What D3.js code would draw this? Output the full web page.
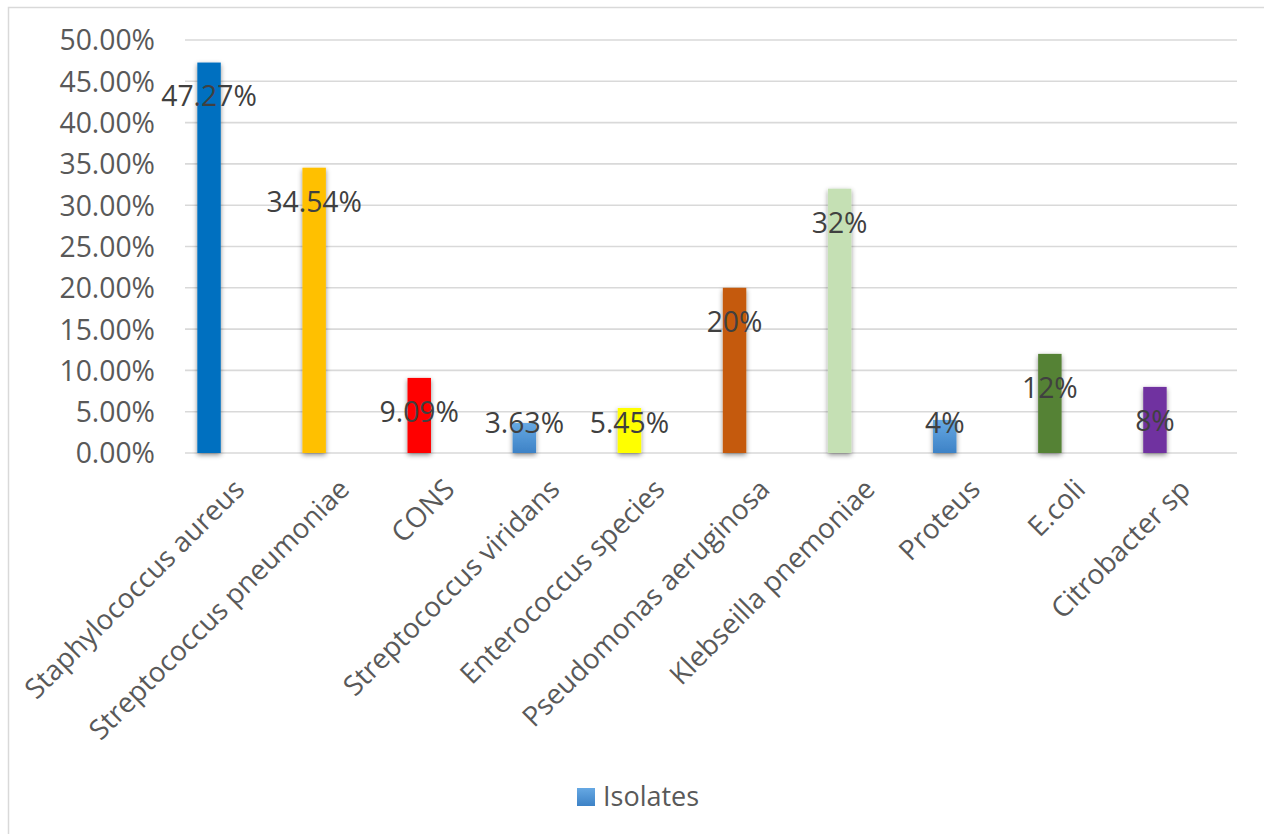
<!DOCTYPE html>
<html>
<head>
<meta charset="utf-8">
<script src="https://cdn.jsdelivr.net/npm/d3@7"></script>
<style>
  html, body { margin: 0; padding: 0; background: #fff; }
  svg { display: block; font-family: "Open Sans", "Noto Sans", sans-serif; }
</style>
</head>
<body>
<svg id="chart" width="1264" height="834"></svg>
<script>
// ---- data ----
const categories = ["Staphylococcus aureus", "Streptococcus pneumoniae", "CONS", "Streptococcus viridans",
  "Enterococcus species", "Pseudomonas aeruginosa", "Klebseilla pnemoniae", "Proteus", "E.coli", "Citrobacter sp"];
const values = [47.27, 34.54, 9.09, 3.63, 5.45, 20, 32, 4, 12, 8];
const valueLabels = ["47.27%", "34.54%", "9.09%", "3.63%", "5.45%", "20%", "32%", "4%", "12%", "8%"];
const yTicks = [0, 5, 10, 15, 20, 25, 30, 35, 40, 45, 50];
const seriesName = "Isolates";

// ---- styles ----
const barFills = ["#0070C0", "#FFC000", "#FF0000", "url(#gradBlue)", "#FFFF00", "#C55A11", "#C5E0B4", "url(#gradBlue)", "#548235", "#7030A0"];

const svg = d3.select("#chart");
const defs = svg.append("defs");
const grad = defs.append("linearGradient").attr("id", "gradBlue").attr("x1", 0).attr("y1", 0).attr("x2", 0).attr("y2", 1);
grad.append("stop").attr("offset", "0%").attr("stop-color", "#66a8e3");
grad.append("stop").attr("offset", "100%").attr("stop-color", "#3d82c6");
const flt = defs.append("filter").attr("id", "shadow").attr("x", "-50%").attr("y", "-20%").attr("width", "200%").attr("height", "140%");
flt.append("feDropShadow").attr("dx", 0).attr("dy", 2).attr("stdDeviation", 2.5).attr("flood-color", "#000").attr("flood-opacity", 0.45);

// outer border
svg.append("rect").attr("x", 8.5).attr("y", 7.5).attr("width", 1300).attr("height", 900)
  .attr("fill", "none").attr("stroke", "#d9d9d9").attr("stroke-width", 1.5);

const y = d3.scaleLinear().domain([0, 50]).range([453, 40]);
const x = d3.scaleBand().domain(categories).range([156.5, 1207.5]).paddingInner(0.777).paddingOuter(0.3885);

// gridlines
const gridX0 = 185, gridX1 = 1237;
svg.append("g").selectAll("line").data(yTicks).join("line")
  .attr("x1", gridX0).attr("x2", gridX1)
  .attr("y1", d => y(d)).attr("y2", d => y(d))
  .attr("stroke", "#d9d9d9").attr("stroke-width", 1.6);

// y axis labels
const yAxis = d3.axisLeft(y).tickValues(yTicks).tickFormat(d => d3.format(".2f")(d) + "%").tickSize(0).tickPadding(0);
const gy = svg.append("g").attr("transform", "translate(155,0)").call(yAxis);
gy.select(".domain").remove();
gy.selectAll("text").attr("fill", "#595959").attr("font-size", "28.3px")
  .attr("font-family", "'Open Sans', sans-serif").attr("dy", "0.35em");

// bars
svg.append("g").selectAll("rect").data(values).join("rect")
  .attr("x", (d, i) => x(categories[i]))
  .attr("width", x.bandwidth())
  .attr("y", d => y(d))
  .attr("height", d => y(0) - y(d))
  .attr("fill", (d, i) => barFills[i])
  .attr("filter", "url(#shadow)");

// value labels
svg.append("g").selectAll("text").data(values).join("text")
  .attr("x", (d, i) => x(categories[i]) + x.bandwidth() / 2)
  .attr("y", d => Math.min(y(d) + 34, 423))
  .attr("dy", "0.35em")
  .attr("text-anchor", "middle")
  .attr("fill", "#404040")
  .attr("font-size", "28.3px")
  .text((d, i) => valueLabels[i]);

// category labels
const xAxis = d3.axisBottom(x).tickSize(0).tickPadding(0);
const gx = svg.append("g").attr("transform", "translate(0,453)").call(xAxis);
gx.select(".domain").remove();
gx.selectAll("text")
  .attr("fill", "#595959").attr("font-size", "27.8px").attr("font-family", "'Open Sans', sans-serif")
  .attr("text-anchor", "end")
  .attr("transform", "translate(37,38) rotate(-45)")
  .attr("y", 0).attr("dy", 0);

// legend
const lg = svg.append("g");
lg.append("rect").attr("x", 577).attr("y", 788).attr("width", 18).attr("height", 18).attr("fill", "url(#gradBlue)");
lg.append("text").attr("x", 603).attr("y", 797).attr("dy", "0.35em").attr("fill", "#595959")
  .attr("font-size", "27px").text(seriesName);
</script>
</body>
</html>
